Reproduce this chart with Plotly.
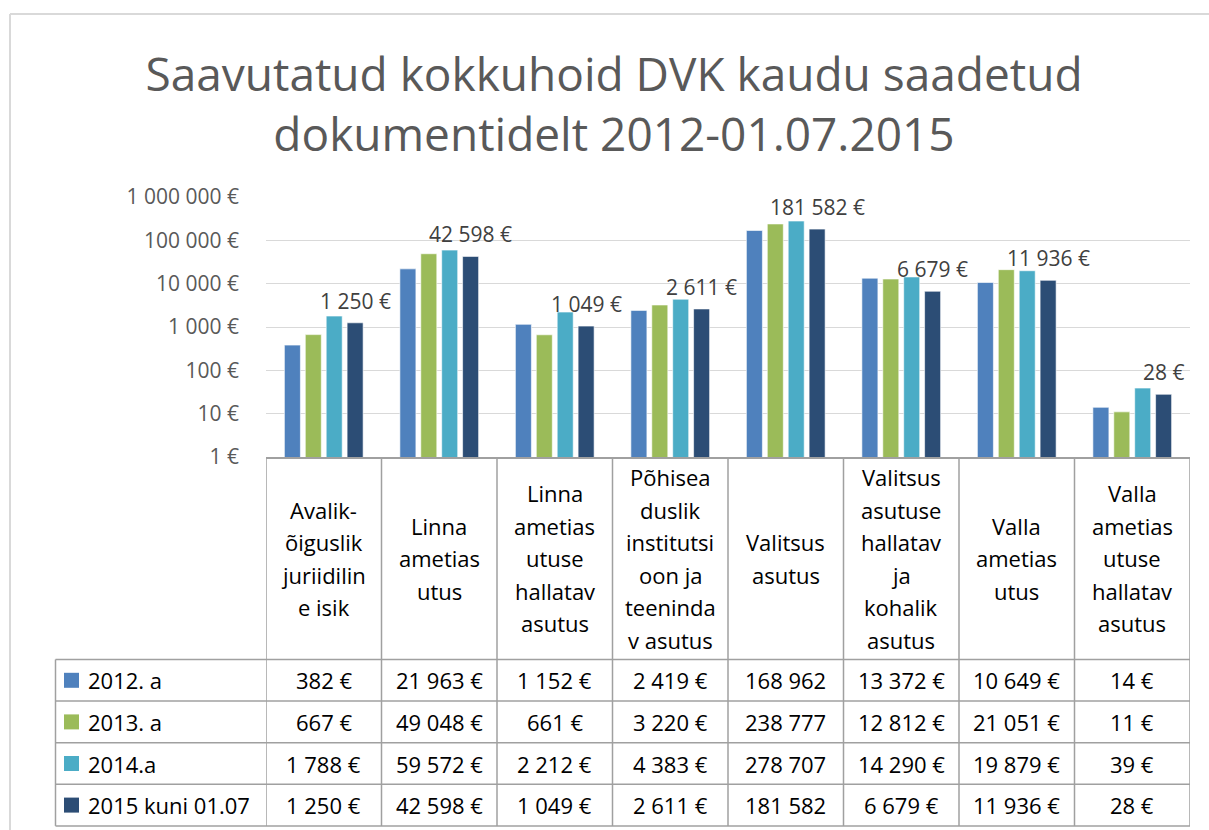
import math
import plotly.graph_objects as go

# ---------------- data ----------------
categories = [
    "Avalik-õiguslik juriidiline isik",
    "Linnaametiasutus",
    "Linnaametiasutuse hallatav asutus",
    "Põhiseaduslik institutsioon ja teenindav asutus",
    "Valitsusasutus",
    "Valitsusasutuse hallatav ja kohalik asutus",
    "Vallaametiasutus",
    "Vallaametiasutuse hallatav asutus",
]
# wrapped category header text as shown in the data table
category_lines = [
    ["Avalik-", "õiguslik", "juriidilin", "e isik"],
    ["Linna", "ametias", "utus"],
    ["Linna", "ametias", "utuse", "hallatav", "asutus"],
    ["Põhisea", "duslik", "institutsi", "oon ja", "teeninda", "v asutus"],
    ["Valitsus", "asutus"],
    ["Valitsus", "asutuse", "hallatav", "ja", "kohalik", "asutus"],
    ["Valla", "ametias", "utus"],
    ["Valla", "ametias", "utuse", "hallatav", "asutus"],
]
series_names = ["2012. a", "2013. a", "2014.a", "2015 kuni 01.07"]
v2012 = [382, 21963, 1152, 2419, 168962, 13372, 10649, 14]
v2013 = [667, 49048, 661, 3220, 238777, 12812, 21051, 11]
v2014 = [1788, 59572, 2212, 4383, 278707, 14290, 19879, 39]
v2015 = [1250, 42598, 1049, 2611, 181582, 6679, 11936, 28]
series_values = [v2012, v2013, v2014, v2015]
labelled_series = 3  # only the last series carries data labels

tick_values = [1, 10, 100, 1000, 10000, 100000, 1000000]
tick_labels = ["1 €", "10 €", "100 €", "1 000 €", "10 000 €", "100 000 €", "1 000 000 €"]

title_text = "Saavutatud kokkuhoid DVK kaudu saadetud<br>dokumentidelt 2012-01.07.2015"

# ---------------- styles ----------------
colors = ["#4F81BD", "#9BBB59", "#4BACC6", "#2C4D75"]
FONT = "Open Sans"
W, H = 1209, 830
PX0, PX1, PY0, PY1 = 266, 1190, 197, 457   # plot area in pixels
BARGAP, BARGROUPGAP = 0.276, 0.234
GRID = "#D9D9D9"
TABLE_LINE = "#A0A0A0"
HEADER_BOTTOM = 659.5
ROW_H = 41.6
LEGEND_LEFT = 55.5
HEADER_LINE_H = 32.5


def px_x(px):
    return (px - PX0) / (PX1 - PX0)


def px_y(py):
    return (PY1 - py) / (PY1 - PY0)


def fmt_table(v):
    s = f"{v:,}".replace(",", " ")
    # six-digit values are truncated in the table cell (no room for the sign)
    return s if v >= 100000 else s + " €"


def fmt_label(v):
    return f"{v:,}".replace(",", " ") + " €"


fig = go.Figure()
for name, vals, col in zip(series_names, series_values, colors):
    fig.add_trace(go.Bar(
        x=categories, y=vals, name=name,
        marker=dict(color=col, line=dict(color="rgba(255,255,255,0.6)", width=1)),
        showlegend=False,
        hovertemplate="%{x}<br>" + name + ": %{y:,} €<extra></extra>",
    ))

shapes = []
annotations = []

# data labels above the labelled series' bars
group_w = 1 - BARGAP
slot = group_w / len(series_values)
offset = -group_w / 2 + slot * (labelled_series + 0.5)
for i, v in enumerate(series_values[labelled_series]):
    annotations.append(dict(
        x=i + offset, y=math.log10(v), xref="x", yref="y",
        text=fmt_label(v), showarrow=False, yshift=22,
        xanchor="center", yanchor="middle",
        font=dict(family=FONT, size=21, color="#404040"),
    ))

# ---------- data table ----------
table_bottom = HEADER_BOTTOM + ROW_H * len(series_values)
# vertical column lines
for k in range(len(categories) + 1):
    shapes.append(dict(type="line", xref="x", yref="paper",
                       x0=k - 0.5, x1=k - 0.5, y0=0, y1=px_y(table_bottom),
                       line=dict(color=TABLE_LINE, width=1.5)))
# legend column left line
shapes.append(dict(type="line", xref="paper", yref="paper",
                   x0=px_x(LEGEND_LEFT), x1=px_x(LEGEND_LEFT),
                   y0=px_y(HEADER_BOTTOM), y1=px_y(table_bottom),
                   line=dict(color=TABLE_LINE, width=1.5)))
# horizontal row lines
for r in range(len(series_values) + 1):
    yy = px_y(HEADER_BOTTOM + r * ROW_H)
    shapes.append(dict(type="line", xref="paper", yref="paper",
                       x0=px_x(LEGEND_LEFT), x1=1, y0=yy, y1=yy,
                       line=dict(color=TABLE_LINE, width=1.5)))

# category header text
header_center = (PY1 + HEADER_BOTTOM) / 2
for i, lines in enumerate(category_lines):
    n = len(lines)
    for j, line in enumerate(lines):
        annotations.append(dict(
            x=i, y=px_y(header_center + (j - (n - 1) / 2) * HEADER_LINE_H),
            xref="x", yref="paper", text=line, showarrow=False,
            xanchor="center", yanchor="middle",
            font=dict(family=FONT, size=22, color="#000000"),
        ))

# table rows: legend key + values
for r, (name, vals, col) in enumerate(zip(series_names, series_values, colors)):
    yc = HEADER_BOTTOM + (r + 0.5) * ROW_H
    shapes.append(dict(type="rect", xref="paper", yref="paper",
                       x0=px_x(64), x1=px_x(79), y0=px_y(yc - 7.5), y1=px_y(yc + 7.5),
                       fillcolor=col, line=dict(width=0)))
    annotations.append(dict(
        x=px_x(86), y=px_y(yc), xref="paper", yref="paper", text=name,
        showarrow=False, xanchor="left", yanchor="middle",
        font=dict(family=FONT, size=22, color="#000000"),
    ))
    for i, v in enumerate(vals):
        annotations.append(dict(
            x=i, y=px_y(yc), xref="x", yref="paper", text=fmt_table(v),
            showarrow=False, xanchor="center", yanchor="middle",
            font=dict(family=FONT, size=22, color="#000000"),
        ))

# chart-area frame (top & left visible)
shapes.append(dict(type="line", xref="paper", yref="paper",
                   x0=px_x(10), x1=px_x(10), y0=px_y(14), y1=px_y(H + 5),
                   line=dict(color=GRID, width=2)))
shapes.append(dict(type="line", xref="paper", yref="paper",
                   x0=px_x(10), x1=px_x(W + 5), y0=px_y(14), y1=px_y(14),
                   line=dict(color=GRID, width=2)))

fig.update_layout(
    width=W, height=H,
    margin=dict(l=PX0, r=W - PX1, t=PY0, b=H - PY1, autoexpand=False),
    paper_bgcolor="white", plot_bgcolor="white",
    barmode="group", bargap=BARGAP, bargroupgap=BARGROUPGAP,
    title=dict(text=title_text, x=614 / W, xref="container", xanchor="center",
               y=1 - 91 / H, yref="container", yanchor="middle",
               font=dict(family=FONT, size=46, color="#595959")),
    xaxis=dict(showticklabels=False, ticks="", showgrid=False, zeroline=False,
               showline=True, linecolor=TABLE_LINE, linewidth=1.5,
               range=[-0.5, len(categories) - 0.5]),
    yaxis=dict(type="log", range=[0, 6], tickvals=tick_values, ticktext=tick_labels,
               showgrid=True, gridcolor=GRID, gridwidth=1.3, zeroline=False,
               showline=False, ticks="", ticklabelstandoff=26,
               tickfont=dict(family=FONT, size=21, color="#595959")),
    shapes=shapes, annotations=annotations,
    font=dict(family=FONT),
)

fig.write_html(
    "out.html",
    config={"displayModeBar": False},
    post_script="document.body.style.margin='0';document.body.style.overflow='hidden';",
)
